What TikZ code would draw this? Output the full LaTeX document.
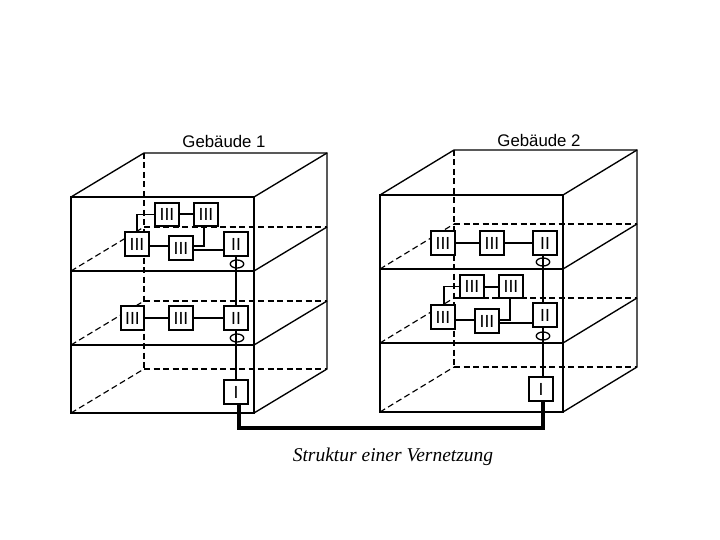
\documentclass[tikz,border=0pt]{standalone}
\usepackage{fontspec}
\setmainfont{Liberation Sans}
\newfontfamily\capfont{Liberation Serif}
\tikzset{
  x=1pt,y=-1pt,
  solidedge/.style={line width=1.35pt,black},
  hidden/.style={line width=1.15pt,black,dash pattern=on 6pt off 3.5pt},
  unit/.style={draw=black,line width=2pt,fill=white,minimum width=23.5pt,minimum height=23.5pt,inner sep=0pt,font=\fontsize{17.5}{17.5}\selectfont,text=black},
  link/.style={line width=1.3pt,black},
  thicklink/.style={line width=2pt,black},
  trunk/.style={line width=3.2pt,black},
  ring/.style={ellipse,draw=black,line width=1.3pt,minimum width=13.5pt,minimum height=8pt,inner sep=0pt},
  title/.style={font=\fontsize{16.8}{16.8}\selectfont,text=black},
}
\usetikzlibrary{shapes.geometric}
\newcommand{\housebox}[8]{%
  % #1 front left #2 front right #3 offset x #4 offset y #5 top #6 floor1 #7 floor2 #8 bottom
  \foreach \yy in {#6,#7,#8}{
    \draw[hidden] (#1,\yy) -- (#1+#3,\yy-#4);
    \draw[hidden] (#1+#3,\yy-#4) -- (#2+#3,\yy-#4);
  }
  \draw[hidden] (#1+#3,#5-#4) -- (#1+#3,#8-#4);
  \draw[solidedge] (#1,#5) -- (#1+#3,#5-#4) -- (#2+#3,#5-#4) -- (#2+#3,#8-#4) -- (#2,#8);
  \draw[solidedge] (#2,#5) -- (#2+#3,#5-#4);
  \foreach \yy in {#6,#7}{ \draw[solidedge] (#2,\yy) -- (#2+#3,\yy-#4); }
  \draw[solidedge] (#1,#5) rectangle (#2,#8);
  \foreach \yy in {#6,#7}{ \draw[solidedge] (#1,\yy) -- (#2,\yy); }
}
\begin{document}
\begin{tikzpicture}
\useasboundingbox[fill=white] (0,0) rectangle (720,540);
\housebox{71}{254}{73}{44}{197}{271}{345}{413}
\housebox{380}{563}{74}{45}{195}{269}{343}{412}

\node[title] (t1) at (224,141) {Gebäude 1};
\node[title] (t2) at (539,140) {Gebäude 2};
\node[font=\capfont\itshape\fontsize{19.5}{19.5}\selectfont,text=black] (cap) at (393,456.5) {Struktur einer Vernetzung};

% Building 1
\node[unit] (a1) at (167,214.5) {III};
\node[unit] (b1) at (206,214.5) {III};
\node[unit] (c1) at (137,244) {III};
\node[unit] (d1) at (181,248) {III};
\node[unit] (e1) at (236,244) {II};
\node[unit] (f1) at (132.5,318) {III};
\node[unit] (g1) at (181,318) {III};
\node[unit] (h1) at (236,318) {II};
\node[unit] (i1) at (236,392) {I};
\node[ring] (r1) at (237,264) {};
\node[ring] (s1) at (237,338) {};

\draw[thicklink] (a1) -- (b1);
\draw[link] (a1.west) -| (c1.north);
\draw[link] (c1.east |- 0,246) -- (d1.west |- 0,246);
\draw[link] (b1.south -| 204,0) |- (d1.east |- 0,246);
\draw[thicklink] (d1.east |- 0,250) -- (e1.west |- 0,250);
\draw[thicklink] (f1) -- (g1);
\draw[thicklink] (g1) -- (h1);
\draw[thicklink] (e1) -- (h1);
\draw[link] (h1) -- (i1);

% Building 2
\node[unit] (a2) at (472,286.5) {III};
\node[unit] (b2) at (511,286.5) {III};
\node[unit] (c2) at (443,317) {III};
\node[unit] (d2) at (487,321) {III};
\node[unit] (e2) at (545,315) {II};
\node[unit] (f2) at (443,243) {III};
\node[unit] (g2) at (492,243) {III};
\node[unit] (h2) at (545,243) {II};
\node[unit] (i2) at (541,389) {I};
\node[ring] (r2) at (543,262) {};
\node[ring] (s2) at (543,336) {};

\draw[link] (f2) -- (g2);
\draw[link] (g2) -- (h2);
\draw[line width=2.4pt,black] (h2.south -| 543,0) -- (e2.north -| 543,0);
\draw[line width=2.4pt,black] (e2.south -| 543,0) -- (i2.north -| 543,0);
\draw[thicklink] (a2) -- (b2);
\draw[link] (a2.west) -| (c2.north -| 444,0);
\draw[link] (c2.east |- 0,320) -- (d2.west |- 0,320);
\draw[link] (b2.south -| 510,0) |- (d2.east |- 0,320);
\draw[link] (d2.east |- 0,323) -- (e2.west |- 0,323);

% Trunk between the buildings
\draw[trunk] (i1.south -| 239,0) |- (543,428) -- (i2.south -| 543,0);
\end{tikzpicture}
\end{document}
